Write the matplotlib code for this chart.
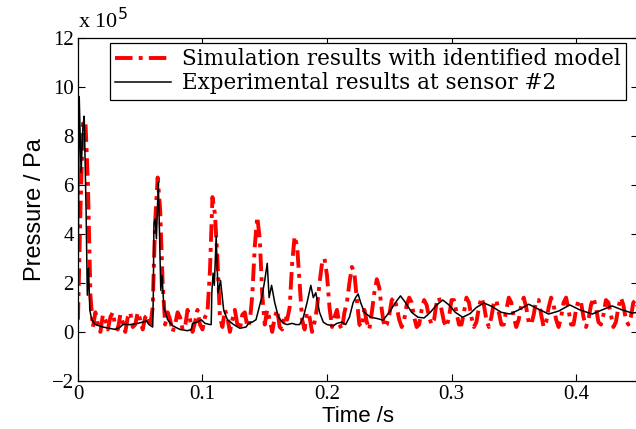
"""Simulated vs experimental pressure at sensor #2."""

import matplotlib
import numpy as np

matplotlib.use("Agg")
import matplotlib.pyplot as plt

SERIF = ["Liberation Serif", "DejaVu Serif"]
WIDE_SERIF = ["DejaVu Serif"]
SANS = ["Liberation Sans", "DejaVu Sans"]

# simulation (x 1e5 Pa), sampled every 2 ms from t = 0
SIM_STEP = 0.002
sim_pressure = [
    0.5, 5.0, 8.5, 8.6, 6.0, 1.5,
    0.2, 0.8, 0.3, 0.0, 0.7, 0.5, 0.1, 0.6, 0.8, 0.2, 0.1, 0.7,
    0.4, 0.0, 0.6, 0.8, 0.2, 0.3, 0.8, 0.5, 0.1, 0.6, 0.7, 0.2,
    1.0, 4.5, 6.3, 5.0, 2.0, 0.3,
    0.8, 0.5, 0.0, 0.3, 0.8, 0.6, 0.1, 0.2, 0.9, 0.5, 0.0, 0.4,
    0.9, 0.3, 0.1, 0.6, 0.8,
    2.5, 5.5, 4.8, 3.0, 0.6,
    0.2, 0.9, 0.6, 0.0, 0.5, 0.9, 0.3, 0.1, 0.7, 0.8, 0.2,
    0.4, 1.5, 3.5, 4.7, 3.8, 1.5, 0.3,
    0.9, 0.5, 0.0, 0.6, 0.9, 0.2, 0.1, 0.7, 0.5,
    1.0, 2.8, 3.9, 3.5, 2.0, 0.5,
    0.1, 0.8, 0.6, 0.0, 0.4,
    1.0, 2.0, 2.8, 3.0, 2.3, 1.0, 0.2,
    0.6, 0.9, 0.3, 0.1, 0.8,
    1.2, 2.0, 2.65, 2.4, 1.3, 0.3,
    0.2, 0.9, 0.4, 0.1,
    0.8, 1.6, 2.15, 1.8, 0.9, 0.2,
    0.3, 0.7, 1.3, 1.4, 1.0, 0.5, 0.2, 0.5, 1.1, 1.4, 1.2, 0.6,
    0.2, 0.3, 0.9, 1.3, 1.1, 0.6, 0.3, 0.5, 1.2, 1.4, 0.9, 0.4,
    0.2, 0.6, 1.3, 1.3, 0.8, 0.3, 0.3, 0.8, 1.4, 1.2, 0.6, 0.2,
    0.4, 1.0, 1.4, 1.1, 0.5, 0.2, 0.6, 1.2, 1.3, 0.8, 0.3, 0.3,
    0.9, 1.4, 1.2, 0.6, 0.2, 0.5, 1.1, 1.4, 1.0, 0.4, 0.3, 0.7,
    1.3, 1.3, 0.7, 0.2, 0.4, 1.0, 1.4, 1.1, 0.5, 0.2, 0.6, 1.2,
    1.4, 0.9, 0.3, 0.3, 0.9, 1.3, 1.2, 0.6, 0.2, 0.5, 1.1, 1.4,
    1.0, 0.4, 0.3, 0.7, 1.3, 1.2, 0.7, 0.2, 0.4, 1.0, 1.4, 1.1,
    0.5, 0.3, 0.6, 1.2, 1.3, 0.8,
]

# experiment (x 1e5 Pa)
exp_time = [
    0.000, 0.001, 0.0025, 0.004, 0.005, 0.0065, 0.0075, 0.0085, 0.0095, 0.011,
    0.014, 0.020, 0.025, 0.030, 0.034, 0.036, 0.042, 0.048, 0.052, 0.055,
    0.057, 0.060, 0.0605, 0.061, 0.062, 0.063, 0.0645, 0.0655, 0.0665, 0.0675,
    0.069, 0.072, 0.076, 0.082, 0.088, 0.091, 0.092, 0.096, 0.099, 0.102,
    0.106, 0.107, 0.1075, 0.1085, 0.1095, 0.111, 0.1125, 0.1145, 0.117, 0.120,
    0.125, 0.130, 0.135, 0.137, 0.140, 0.143, 0.145, 0.148, 0.150, 0.152,
    0.1535, 0.1555, 0.158, 0.161, 0.165, 0.168, 0.172, 0.175, 0.178, 0.181,
    0.184, 0.187, 0.189, 0.191, 0.194, 0.197, 0.200, 0.205, 0.208, 0.212,
    0.215, 0.218, 0.221, 0.223, 0.225, 0.227, 0.230, 0.235, 0.240, 0.245,
    0.250, 0.255, 0.259, 0.263, 0.268, 0.273, 0.278, 0.283, 0.288, 0.293,
    0.298, 0.303, 0.309, 0.315, 0.320, 0.326, 0.332, 0.340, 0.347, 0.354,
    0.362, 0.369, 0.378, 0.386, 0.395, 0.403, 0.413, 0.421, 0.429, 0.437,
    0.445, 0.450,
]
exp_pressure = [
    0.8, 9.6, 6.5, 8.4, 8.8, 5.0, 1.5, 2.6, 0.9, 0.5,
    0.3, 0.2, 0.15, 0.1, 0.2, 0.3, 0.3, 0.35, 0.4, 0.45,
    0.3, 0.2, 1.5, 4.4, 4.6, 3.8, 6.1, 4.0, 1.7, 2.3,
    1.0, 0.5, 0.25, 0.1, 0.05, 0.1, 0.35, 0.4, 0.5, 0.35,
    0.3, 0.3, 1.6, 2.4, 1.9, 3.9, 1.6, 2.1, 0.9, 0.5,
    0.3, 0.15, 0.2, 0.35, 0.4, 0.5, 0.9, 1.5, 2.1, 2.8,
    1.4, 1.9, 1.2, 0.6, 0.35, 0.3, 0.35, 0.3, 0.3, 0.6,
    1.2, 1.9, 1.4, 1.6, 0.8, 0.4, 0.3, 0.25, 0.35, 0.4,
    0.3, 0.6, 1.2, 1.4, 1.55, 1.2, 0.8, 0.6, 0.55, 0.48,
    0.8, 1.2, 1.47, 1.2, 0.8, 0.6, 0.57, 0.8, 1.1, 1.3,
    1.1, 0.8, 0.6, 0.75, 1.0, 1.18, 1.05, 0.8, 0.73, 0.9,
    1.13, 0.95, 0.73, 0.85, 1.1, 0.9, 0.73, 0.9, 1.06, 0.9,
    0.77, 0.8,
]

y_ticks = [-2, 0, 2, 4, 6, 8, 10, 12]
x_ticks = [0, 0.1, 0.2, 0.3, 0.4]
x_tick_labels = ["0", "0.1", "0.2", "0.3", "0.4"]


def main() -> None:
    sim_time = np.arange(len(sim_pressure)) * SIM_STEP

    fig = plt.figure(figsize=(6.36, 4.29), dpi=100)
    ax = fig.add_axes([0.1226, 0.112, 0.881, 0.8])

    ax.plot(sim_time, sim_pressure, color="red", linewidth=2.8,
            linestyle=(0, (4.5, 1.6, 1, 1.6)),
            label="Simulation results with identified model")
    ax.plot(exp_time, exp_pressure, color="black", linewidth=1.1,
            label="Experimental results at sensor #2")

    ax.set_xlim(0, 0.45)
    ax.set_ylim(-2, 12)
    ax.set_xticks(x_ticks)
    ax.set_xticklabels(x_tick_labels)
    ax.set_yticks(y_ticks)
    ax.tick_params(direction="in", top=True, right=True, length=5, width=0.8,
                   labelsize=15, pad=3)
    for label in ax.get_xticklabels() + ax.get_yticklabels():
        label.set_family(SERIF)
    for spine in ax.spines.values():
        spine.set_linewidth(0.9)

    ax.set_xlabel("Time /s", family=SANS, fontsize=16, labelpad=1)
    ax.set_ylabel("Pressure / Pa", family=SANS, fontsize=17, labelpad=4)
    ax.text(0.0, 1.012, "x 10$^5$", transform=ax.transAxes, family=SERIF,
            fontsize=16, ha="left", va="bottom")

    legend = ax.legend(loc="upper right", bbox_to_anchor=(0.978, 0.985),
                       prop={"family": WIDE_SERIF, "size": 15.5}, frameon=True,
                       fancybox=False, edgecolor="black", framealpha=1,
                       handlelength=2.6, handletextpad=0.5, borderpad=0.25,
                       labelspacing=0.1, borderaxespad=0)
    legend.get_frame().set_linewidth(0.9)

    fig.savefig("out.png", dpi=100)
    plt.close(fig)


if __name__ == "__main__":
    main()
